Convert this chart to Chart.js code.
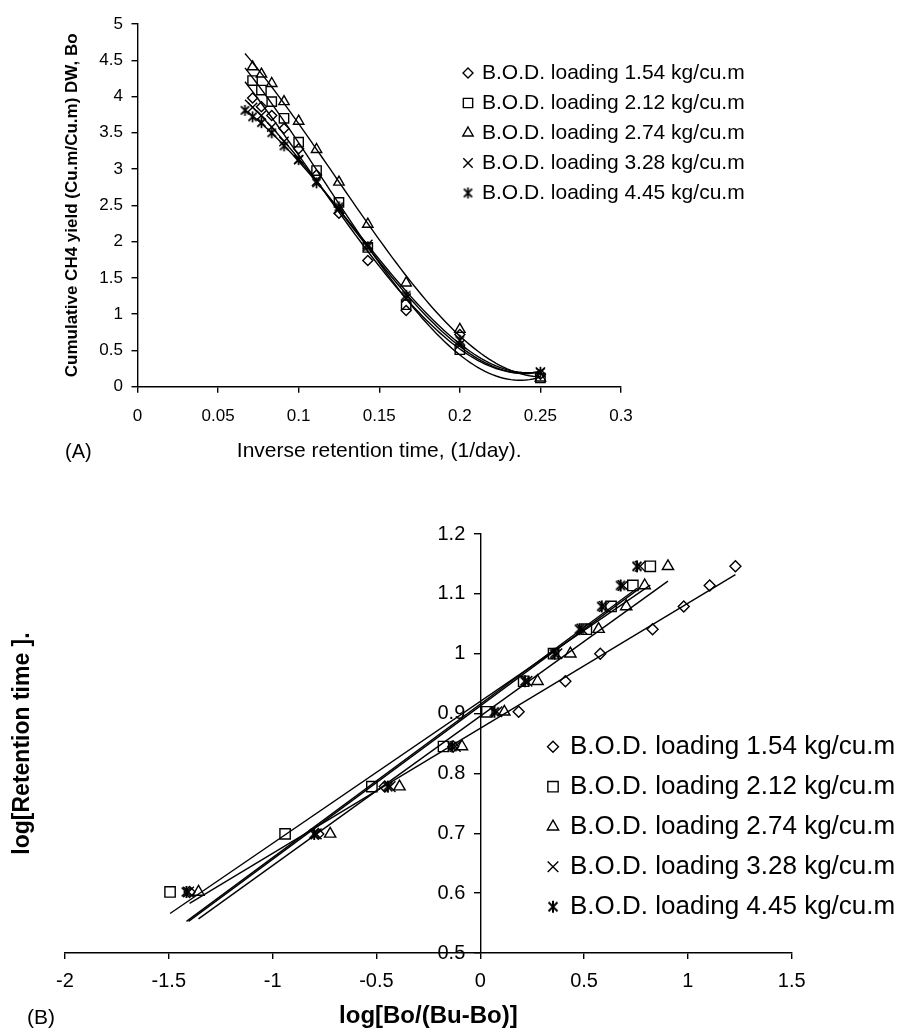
<!DOCTYPE html>
<html>
<head>
<meta charset="utf-8">
<script src="https://cdn.jsdelivr.net/npm/chart.js@4.4.1/dist/chart.umd.min.js"></script>
<style>
html,body{margin:0;padding:0;background:#fff;}
body{width:903px;height:1031px;position:relative;overflow:hidden;}
#wa{position:absolute;left:0;top:0;width:903px;height:480px;}
#wb{position:absolute;left:0;top:480px;width:903px;height:551px;}
canvas{display:block;}
</style>
</head>
<body>
<div id="wa"><canvas id="ca" width="903" height="480"></canvas></div>
<div id="wb"><canvas id="cb" width="903" height="551"></canvas></div>
<script>
// ---------------- DATA ----------------
const seriesLabels = [
  'B.O.D. loading 1.54 kg/cu.m',
  'B.O.D. loading 2.12 kg/cu.m',
  'B.O.D. loading 2.74 kg/cu.m',
  'B.O.D. loading 3.28 kg/cu.m',
  'B.O.D. loading 4.45 kg/cu.m'
];

// Panel A: inverse retention time (1/day)
const invRetentionTime    = [0.0714, 0.0769, 0.0833, 0.0909, 0.1, 0.1111, 0.125, 0.1429, 0.1667, 0.2, 0.25];
const invRetentionTime445 = [0.0667, 0.0714, 0.0769, 0.0833, 0.0909, 0.1, 0.1111, 0.125, 0.1429, 0.1667, 0.2, 0.25];
// Panel A: cumulative CH4 yield Bo
const bo154 = [3.98, 3.86, 3.74, 3.56, 3.28, 2.92, 2.39, 1.74, 1.05, 0.72, 0.17];
const bo212 = [4.22, 4.09, 3.93, 3.70, 3.37, 2.98, 2.54, 1.92, 1.13, 0.51, 0.12];
const bo274 = [4.41, 4.31, 4.18, 3.93, 3.66, 3.27, 2.82, 2.24, 1.43, 0.79, 0.12];
const bo328 = [3.85, 3.74, 3.58, 3.38, 3.13, 2.83, 2.45, 1.96, 1.22, 0.58, 0.20];
const bo445 = [3.81, 3.72, 3.64, 3.50, 3.32, 3.13, 2.81, 2.48, 1.93, 1.26, 0.64, 0.20];

// Panel B: log retention time (y) and log[Bo/(Bu-Bo)] (x)
const logRetentionTime = [0.602, 0.699, 0.778, 0.845, 0.903, 0.954, 1.0, 1.041, 1.079, 1.114, 1.146];
const lr154 = [-1.400, -0.780, -0.460, -0.130, 0.185, 0.410, 0.578, 0.830, 0.980, 1.105, 1.229];
const lr212 = [-1.494, -0.940, -0.522, -0.177, 0.032, 0.209, 0.353, 0.511, 0.630, 0.735, 0.819];
const lr274 = [-1.357, -0.723, -0.389, -0.088, 0.116, 0.276, 0.434, 0.570, 0.703, 0.792, 0.904];
const lr328 = [-1.405, -0.790, -0.434, -0.120, 0.080, 0.225, 0.369, 0.490, 0.598, 0.688, 0.770];
const lr445 = [-1.415, -0.800, -0.445, -0.135, 0.068, 0.215, 0.358, 0.478, 0.585, 0.676, 0.755];

// Tick labels
const xTicksA = [0, 0.05, 0.1, 0.15, 0.2, 0.25, 0.3];
const yTicksA = [0, 0.5, 1, 1.5, 2, 2.5, 3, 3.5, 4, 4.5, 5];
const xTicksB = [-2, -1.5, -1, -0.5, 0, 0.5, 1, 1.5];
const yTicksB = [0.5, 0.6, 0.7, 0.8, 0.9, 1, 1.1, 1.2];

// ---------------- HELPERS ----------------
const FONT = "'Liberation Sans', Arial, Helvetica, sans-serif";
Chart.defaults.font.family = FONT;
Chart.defaults.color = '#000';

function zip(xs, ys) { return xs.map((x, i) => ({x: x, y: ys[i]})); }

// least-squares polynomial fit (Excel-style trendline)
function polyFit(xs, ys, deg) {
  const n = deg + 1;
  const A = Array.from({length: n}, () => new Array(n + 1).fill(0));
  for (let i = 0; i < xs.length; i++) {
    for (let r = 0; r < n; r++) {
      for (let c = 0; c < n; c++) A[r][c] += Math.pow(xs[i], r + c);
      A[r][n] += ys[i] * Math.pow(xs[i], r);
    }
  }
  for (let col = 0; col < n; col++) {
    let piv = col;
    for (let r = col + 1; r < n; r++) if (Math.abs(A[r][col]) > Math.abs(A[piv][col])) piv = r;
    const t = A[col]; A[col] = A[piv]; A[piv] = t;
    for (let r = 0; r < n; r++) {
      if (r === col) continue;
      const f = A[r][col] / A[col][col];
      for (let c = col; c <= n; c++) A[r][c] -= f * A[col][c];
    }
  }
  return A.map((row, i) => row[n] / row[i]);
}
function trendPoints(xs, ys, deg, x0, x1, steps) {
  const co = polyFit(xs, ys, deg);
  const pts = [];
  for (let k = 0; k <= steps; k++) {
    const x = x0 + (x1 - x0) * k / steps;
    let y = 0;
    for (let p = 0; p < co.length; p++) y += co[p] * Math.pow(x, p);
    pts.push({x: x, y: y});
  }
  return pts;
}

function makeAsterisk(size, lw) {
  const s = Math.ceil(size + lw * 2);
  const c = document.createElement('canvas');
  c.width = s; c.height = s;
  const g = c.getContext('2d');
  const m = s / 2, r = size / 2, d = r * 0.75;
  g.strokeStyle = '#000'; g.lineWidth = lw;
  g.beginPath();
  g.moveTo(m - d, m - d); g.lineTo(m + d, m + d);
  g.moveTo(m + d, m - d); g.lineTo(m - d, m + d);
  g.moveTo(m, m - r); g.lineTo(m, m + r);
  g.stroke();
  return c;
}

function drawMarker(ctx, style, radius, lw, x, y) {
  ctx.save();
  ctx.strokeStyle = '#000';
  ctx.fillStyle = 'rgba(0,0,0,0)';
  ctx.lineWidth = lw;
  if (Chart.helpers && Chart.helpers.drawPoint) {
    Chart.helpers.drawPoint(ctx, {pointStyle: style, radius: radius, borderWidth: lw, rotation: 0}, x, y);
  } else if (typeof style === 'object') {
    ctx.drawImage(style, x - style.width / 2, y - style.height / 2);
  }
  ctx.restore();
}

const insetLegend = {
  id: 'insetLegend',
  afterDraw(chart, args, o) {
    if (!o || !o.rowHeight) return;
    const ctx = chart.ctx;
    const ds = chart.data.datasets.filter(d => d.inLegend);
    ds.forEach((d, i) => {
      const y = o.y + i * o.rowHeight;
      drawMarker(ctx, d.legendStyle || d.pointStyle, d.legendRadius || d.pointRadius, o.markerBorder, o.markerX, y);
      ctx.save();
      ctx.font = o.fontSize + 'px ' + FONT;
      ctx.fillStyle = '#000';
      ctx.textBaseline = 'middle';
      ctx.textAlign = 'left';
      ctx.fillText(d.label, o.textX, y);
      ctx.restore();
    });
  }
};

const panelLabel = {
  id: 'panelLabel',
  afterDraw(chart, args, o) {
    if (!o || !o.text) return;
    const ctx = chart.ctx;
    ctx.save();
    ctx.font = o.fontSize + 'px ' + FONT;
    ctx.fillStyle = '#000';
    ctx.textBaseline = 'middle';
    ctx.textAlign = 'left';
    ctx.fillText(o.text, o.x, o.y);
    ctx.restore();
  }
};

// an axis placed at x = 0 draws its labels flush against the axis line;
// move them out past the tick marks like a normal left axis
const crossAxisLabels = {
  id: 'crossAxisLabels',
  beforeDraw(chart, args, o) {
    if (!o || !o.scaleId) return;
    const s = chart.scales[o.scaleId];
    if (!s || !s.getLabelItems) return;
    const items = s.getLabelItems();
    if (items && !items._shifted) {
      items.forEach(it => { if (it.options && it.options.translation) it.options.translation[0] -= o.shift; });
      items._shifted = true;
    }
  }
};

const AXIS_W = 1.4;
const MK_W = 1.4;
function axisCommon() {
  return {
    grid: {display: true, drawOnChartArea: false, drawTicks: true, tickLength: 6, color: '#000', lineWidth: AXIS_W},
    border: {display: true, color: '#000', width: AXIS_W}
  };
}

// ---------------- PANEL A ----------------
const starA = makeAsterisk(11, 1.7);
const stylesA = [
  {pointStyle: 'rectRot', pointRadius: 5},
  {pointStyle: 'rect', pointRadius: 6.6},
  {pointStyle: 'triangle', pointRadius: 6},
  {pointStyle: 'crossRot', pointRadius: 6.6},
  {pointStyle: starA, pointRadius: 5.5}
];
const seriesA = [
  [invRetentionTime, bo154],
  [invRetentionTime, bo212],
  [invRetentionTime, bo274],
  [invRetentionTime, bo328],
  [invRetentionTime445, bo445]
];
const allXA = [].concat(...seriesA.map(s => s[0]));
const minXA = Math.min(...allXA), maxXA = Math.max(...allXA);

const datasetsA = [];
seriesA.forEach((s, i) => {
  datasetsA.push({
    label: seriesLabels[i] + ' trend',
    data: trendPoints(s[0], s[1], 3, minXA, maxXA, 80),
    showLine: true, borderColor: '#000', borderWidth: 1.4, pointRadius: 0, fill: false, tension: 0
  });
});
seriesA.forEach((s, i) => {
  datasetsA.push({
    label: seriesLabels[i],
    inLegend: true,
    data: zip(s[0], s[1]),
    showLine: false,
    pointStyle: stylesA[i].pointStyle,
    pointRadius: stylesA[i].pointRadius,
    legendRadius: stylesA[i].pointRadius,
    pointBorderColor: '#000',
    pointBackgroundColor: 'rgba(0,0,0,0)',
    pointBorderWidth: MK_W
  });
});

new Chart(document.getElementById('ca'), {
  type: 'scatter',
  data: {datasets: datasetsA},
  plugins: [insetLegend, panelLabel],
  options: {
    responsive: false, animation: false, events: [], devicePixelRatio: 1,
    layout: {padding: {left: 0, top: 24, right: 282, bottom: 0}},
    plugins: {
      legend: {display: false}, tooltip: {enabled: false},
      insetLegend: {markerX: 468, textX: 482, y: 73, rowHeight: 30, fontSize: 21, markerBorder: MK_W},
      panelLabel: {text: '(A)', x: 65, y: 452, fontSize: 20}
    },
    scales: {
      x: Object.assign(axisCommon(), {
        type: 'linear', position: 'bottom', min: 0, max: 0.3,
        afterBuildTicks: s => { s.ticks = xTicksA.map(v => ({value: v})); },
        afterFit: s => { s.height = 93.3; },
        ticks: {font: {size: 17}, color: '#000', padding: 13.8, maxRotation: 0, autoSkip: false, callback: v => String(v)},
        title: {display: true, text: 'Inverse retention time, (1/day).', font: {size: 21}, color: '#000', padding: {top: 0, bottom: 15.7}}
      }),
      y: Object.assign(axisCommon(), {
        type: 'linear', position: 'left', min: 0, max: 5,
        afterBuildTicks: s => { s.ticks = yTicksA.map(v => ({value: v})); },
        afterFit: s => { s.width = 137.5; },
        ticks: {font: {size: 17}, color: '#000', padding: 8.5, autoSkip: false, callback: v => String(v)},
        title: {display: true, text: 'Cumulative CH4 yield (Cu.m/Cu.m) DW, Bo', font: {size: 17, weight: 'bold'}, color: '#000', padding: {top: 61.8, bottom: 0}}
      })
    }
  }
});

// ---------------- PANEL B ----------------
const starB = makeAsterisk(12, 2);
const stylesB = [
  {pointStyle: 'rectRot', pointRadius: 5.5},
  {pointStyle: 'rect', pointRadius: 7.3},
  {pointStyle: 'triangle', pointRadius: 6.5},
  {pointStyle: 'crossRot', pointRadius: 7.5},
  {pointStyle: starB, pointRadius: 6}
];
const seriesB = [
  [lr154, logRetentionTime],
  [lr212, logRetentionTime],
  [lr274, logRetentionTime],
  [lr328, logRetentionTime],
  [lr445, logRetentionTime]
];
const datasetsB = [];
seriesB.forEach((s, i) => {
  datasetsB.push({
    label: seriesLabels[i] + ' trend',
    data: trendPoints(s[0], s[1], 1, Math.min(...s[0]), Math.max(...s[0]), 1),
    showLine: true, borderColor: '#000', borderWidth: 1.4, pointRadius: 0, fill: false, tension: 0,
    xAxisID: 'x', yAxisID: 'y'
  });
});
seriesB.forEach((s, i) => {
  datasetsB.push({
    label: seriesLabels[i],
    inLegend: true,
    data: zip(s[0], s[1]),
    showLine: false,
    pointStyle: stylesB[i].pointStyle,
    pointRadius: stylesB[i].pointRadius,
    legendRadius: stylesB[i].pointRadius,
    pointBorderColor: '#000',
    pointBackgroundColor: 'rgba(0,0,0,0)',
    pointBorderWidth: MK_W,
    xAxisID: 'x', yAxisID: 'y'
  });
});

new Chart(document.getElementById('cb'), {
  type: 'scatter',
  data: {datasets: datasetsB},
  plugins: [insetLegend, panelLabel, crossAxisLabels],
  options: {
    responsive: false, animation: false, events: [], devicePixelRatio: 1,
    layout: {padding: {left: 0, top: 54, right: 111.3, bottom: 0}},
    plugins: {
      legend: {display: false}, tooltip: {enabled: false},
      insetLegend: {markerX: 553, textX: 570, y: 266.7, rowHeight: 40, fontSize: 26, markerBorder: MK_W},
      panelLabel: {text: '(B)', x: 27, y: 538, fontSize: 21},
      crossAxisLabels: {scaleId: 'y', shift: 15}
    },
    scales: {
      y: Object.assign(axisCommon(), {
        type: 'linear', axis: 'y', position: {x: 0}, min: 0.5, max: 1.2,
        afterBuildTicks: s => { s.ticks = yTicksB.map(v => ({value: v})); },
        ticks: {font: {size: 20}, color: '#000', padding: 9, autoSkip: false, callback: v => String(v)},
        title: {display: false}
      }),
      x: Object.assign(axisCommon(), {
        type: 'linear', axis: 'x', position: 'bottom', min: -2, max: 1.5,
        afterBuildTicks: s => { s.ticks = xTicksB.map(v => ({value: v})); },
        afterFit: s => { s.height = 78; },
        ticks: {font: {size: 20}, color: '#000', padding: 10.7, maxRotation: 0, autoSkip: false, callback: v => String(v)},
        title: {display: true, text: 'log[Bo/(Bu-Bo)]', font: {size: 24, weight: 'bold'}, color: '#000', padding: {top: 0, bottom: 0}}
      }),
      yt: {
        type: 'linear', axis: 'y', position: 'left', min: 0, max: 1, display: true,
        afterFit: s => { s.width = 65; },
        ticks: {display: false},
        grid: {display: false, drawTicks: false},
        border: {display: false},
        title: {display: true, text: 'log[Retention time ].', font: {size: 23, weight: 'bold'}, color: '#000', padding: {top: 9.2, bottom: 0}}
      }
    }
  }
});
</script>
</body>
</html>
